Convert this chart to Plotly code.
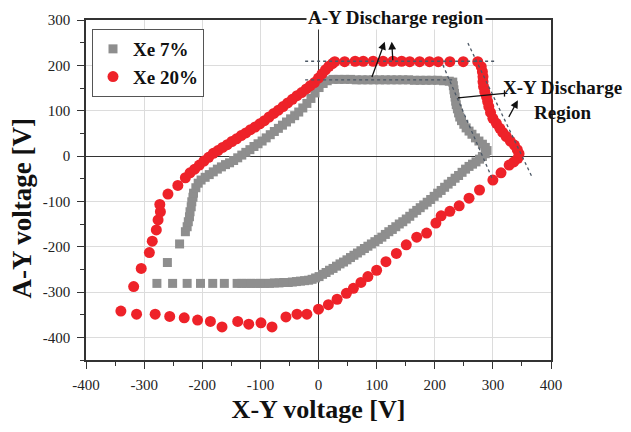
import plotly.graph_objects as go

# ---------------- data ----------------
series_names = ["Xe 7%", "Xe 20%"]

# Xe 20% (red circles)
red_x = [274, 280, 282, 283, 283, 284, 286, 289, 291, 293, 296, 300, 306, 312, 317, 323, 330, 337, 342, 345, 343, 336, 328,
         314, 300, 277, 259, 242, 226, 211, 202, 186, 169, 151, 134, 116, 100, 85, 73, 60, 48, 32, 17, 0,
         -20, -37, -56, -80, -99, -120, -139, -166, -186, -208, -231, -256, -281, -313, -340,
         -318, -305, -291, -286, -279, -276, -272, -273, -259, -242, -229,
         -221, -213, -205, -197, -189, -181, -173, -165, -157, -149, -141, -133, -125, -117, -109, -101, -93, -85,
         -77, -69, -61, -53, -45, -37, -29, -21, -14, -7, 0, 6, 12, 18, 24,
         28, 45, 63, 77, 94, 111, 128, 143, 157, 174, 191, 206, 226, 249]
red_y = [208, 197, 186, 175, 164, 153, 142, 131, 120, 109, 96, 83, 72, 61, 52, 43, 33, 24, 14, 5, -5, -13, -20,
         -37, -53, -75, -93, -110, -122, -132, -148, -170, -179, -196, -215, -233, -252, -266, -279, -292, -303, -316, -328, -338,
         -349, -349, -355, -377, -368, -371, -365, -377, -365, -362, -357, -354, -349, -349, -342,
         -288, -248, -213, -188, -163, -141, -123, -107, -84, -65, -48,
         -37, -29, -20, -11, -3, 6, 12, 19, 25, 32, 38, 45, 51, 58, 64, 71, 78, 86,
         94, 101, 109, 117, 125, 133, 140, 148, 155, 162, 172, 181, 190, 198, 204,
         208, 208, 209, 209, 209, 209, 209, 209, 208, 208, 208, 208, 208, 208]

# Xe 7% (gray squares)
gray_x = [25, 35, 45, 55, 65, 75, 85, 95, 105, 115, 125, 135, 145, 155, 165, 175, 185, 195, 205, 215, 225,
          231, 232, 233, 234, 235, 236, 237, 239, 241, 243, 246, 250, 254, 259, 264, 270, 276, 282, 287, 290, 287, 282,
          277, 271, 265, 259, 253, 247, 241, 235, 229, 223, 217, 211, 205, 199, 193, 187, 181, 175, 169, 163, 157,
          151, 145, 139, 133, 127, 121, 115, 109, 103, 97, 91, 85, 79, 73, 67, 61, 55, 49, 43, 37, 31, 25, 19, 13,
          7, 1, -5, -11, -17, -24, -31, -38, -45, -52, -60, -68, -76, -84, -92, -100, -108, -116, -124, -132, -140,
          -162, -182, -203, -226, -251, -278,
          -260, -239, -229, -226, -224, -222, -221, -219, -218, -216, -215, -211, -207,
          -202, -195, -188, -181, -174, -167, -160, -153, -146, -139, -132, -125, -118, -111, -104, -97, -90, -83,
          -76, -69, -62, -55, -48, -41, -34, -27, -20, -13, -6, 1, 8, 15]
gray_y = [169, 169, 169, 169, 168, 168, 168, 168, 168, 168, 168, 168, 168, 168, 167, 167, 167, 167, 167, 166, 165,
          163, 155, 146, 138, 130, 121, 113, 104, 95, 86, 78, 70, 62, 55, 48, 40, 33, 26, 19, 12, 5, -1,
          -7, -13, -18, -23, -29, -36, -43, -49, -56, -62, -69, -76, -82, -89, -96, -102, -108, -114, -120, -126, -133,
          -139, -145, -150, -156, -162, -167, -173, -179, -184, -189, -194, -199, -204, -209, -214, -219, -224, -229,
          -234, -238, -243, -248, -252, -257,
          -261, -266, -269, -272, -274, -275, -276, -277, -278, -279, -279, -280, -280, -281, -281, -281, -281, -281,
          -281, -281, -281,
          -281, -281, -281, -281, -281, -281,
          -235, -194, -167, -156, -145, -134, -123, -112, -101, -91, -82, -70, -60,
          -53, -47, -41, -35, -29, -24, -19, -15, -10, -4, 2, 8, 14, 21, 27, 33, 40, 47,
          54, 61, 68, 75, 82, 89, 97, 106, 116, 127, 139, 151, 160, 166]

x_ticks = [-400, -300, -200, -100, 0, 100, 200, 300, 400]
y_ticks = [-400, -300, -200, -100, 0, 100, 200, 300]

x_title = "X-Y voltage [V]"
y_title = "A-Y voltage [V]"
ay_label = "A-Y Discharge region"
xy_label = "X-Y Discharge<br>Region"

# ---------------- figure ----------------
SERIF = "Liberation Serif"
RED = "#ee2229"
GRAY = "#8e8e8e"
DOT = "#4c5866"

fig = go.Figure()
fig.add_trace(go.Scatter(x=gray_x, y=gray_y, mode="markers", name=series_names[0],
                         marker=dict(symbol="square", size=9, color=GRAY, line=dict(width=0))))
fig.add_trace(go.Scatter(x=red_x, y=red_y, mode="markers", name=series_names[1],
                         marker=dict(symbol="circle", size=11, color=RED, line=dict(width=0))))

axis_common = dict(
    automargin=False,
    showline=True, linecolor="#333", linewidth=1.5, mirror=True,
    showgrid=True, gridcolor="#dcdcdc", gridwidth=1,
    zeroline=True, zerolinecolor="#333", zerolinewidth=1.3,
    ticks="outside", ticklen=7, tickwidth=1.3, tickcolor="#333",
    tickfont=dict(family=SERIF, size=15, color="#222"),
    minor=dict(ticks="outside", ticklen=4, tickwidth=1.1, tickcolor="#333", dtick=50, showgrid=False),
)
fig.update_xaxes(range=[-400, 400], tickvals=x_ticks, ticktext=[str(v) for v in x_ticks],
                 ticklabelstandoff=3,
                 title=dict(text=x_title, font=dict(family=SERIF, size=26, color="#111", weight="bold"),
                            standoff=11),
                 **axis_common)
fig.update_yaxes(range=[-450, 300], tickvals=y_ticks, ticktext=[str(v) for v in y_ticks],
                 ticklabelstandoff=4,
                 **axis_common)

# y-axis title (sits a little below the axis centre in the reference)
fig.add_annotation(text=y_title, xref="paper", yref="paper", x=-0.1376, y=0.4456,
                   xanchor="center", yanchor="middle", textangle=-90, showarrow=False,
                   font=dict(family=SERIF, size=27, color="#111", weight="bold"))

# dotted guide lines
dot_lines = [((-23, 209), (306, 209)), ((-23, 168), (231, 168)),
             ((257, 249), (368, -48)), ((214, 201), (300, -53))]
for (x0, y0), (x1, y1) in dot_lines:
    fig.add_shape(type="line", x0=x0, y0=y0, x1=x1, y1=y1, xref="x", yref="y",
                  line=dict(color=DOT, width=1.3, dash="dot"))

# connector line with end bar for X-Y label
fig.add_shape(type="line", x0=240, y0=128, x1=320, y1=138, xref="x", yref="y",
              line=dict(color="#111", width=1.3))
fig.add_shape(type="line", x0=320, y0=131, x1=320, y1=145, xref="x", yref="y",
              line=dict(color="#111", width=1.3))

# arrows
arrows = [((114, 252), (91, 171)), ((126, 252), (128, 208)), ((343, 123), (326, 83))]
for (hx, hy), (tx, ty) in arrows:
    fig.add_annotation(x=hx, y=hy, ax=tx, ay=ty, xref="x", yref="y", axref="x", ayref="y",
                       text="", showarrow=True, arrowhead=2, arrowsize=1.2, arrowwidth=1.3,
                       arrowcolor="#111")

fig.add_annotation(text="<b>" + ay_label + "</b>", xref="paper", yref="paper",
                   x=0.666, y=1.006, xanchor="center", yanchor="middle", showarrow=False,
                   font=dict(family=SERIF, size=19, color="#111"), bgcolor="white", borderpad=1)
fig.add_annotation(text="<b>" + xy_label + "</b>", xref="paper", yref="paper",
                   x=1.0258, y=0.7635, xanchor="center", yanchor="middle", showarrow=False,
                   font=dict(family=SERIF, size=19, color="#111"))

# the page body has an 8px default margin: size/margins compensate so the
# plot area lands at the reference pixel positions and the page does not scroll
fig.update_layout(
    width=623, height=416,
    margin=dict(l=78, r=80, t=12, b=64),
    paper_bgcolor="white", plot_bgcolor="white",
    font=dict(family=SERIF, color="#111"),
    showlegend=True,
    legend=dict(x=0.0129, y=0.9735, xanchor="left", yanchor="top",
                bgcolor="white", bordercolor="#555", borderwidth=1,
                font=dict(family=SERIF, size=19, color="#111", weight="bold"),
                itemsizing="trace", tracegroupgap=0),
)

fig.write_html("out.html")
